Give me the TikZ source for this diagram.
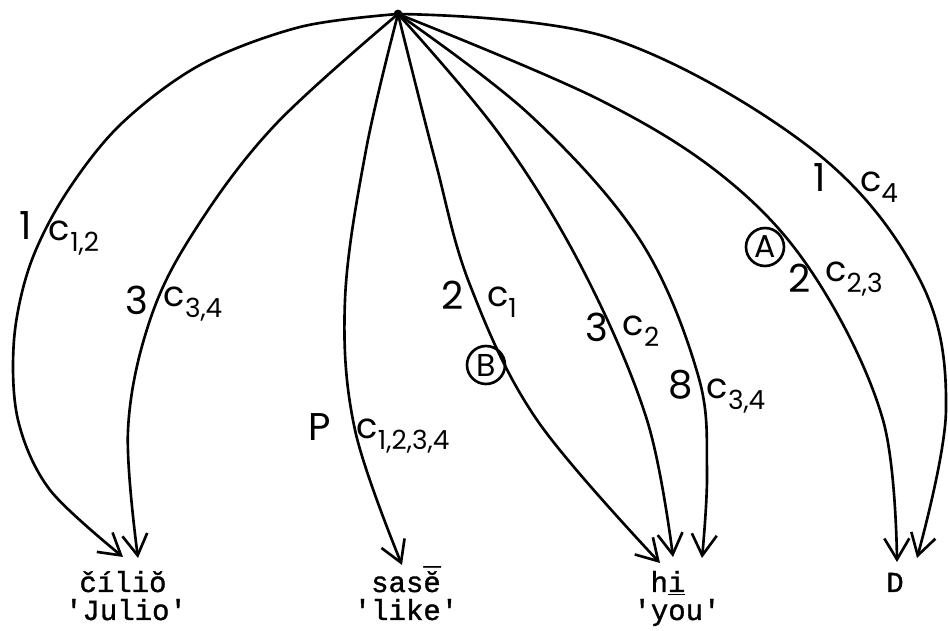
\documentclass[tikz,border=0pt]{standalone}
\usepackage{fontspec}
\setmonofont{Liberation Mono}[FakeBold=1.2]
\newfontfamily\hand{Poppins}
\newcommand\csub[1]{c\raisebox{-6.5pt}{\fontsize{15}{17}\selectfont#1}}
\usetikzlibrary{arrows.meta}

\begin{document}
\begin{tikzpicture}[x=0.02cm, y=-0.02cm,
    edge/.style={line width=1.5pt, smooth, tension=0.6,
        -{Straight Barb[length=0.42cm, width=0.5cm, line width=1.5pt]}},
    word/.style={font=\ttfamily\fontsize{16.5}{18}\selectfont, anchor=base, inner sep=0pt},
    num/.style={font=\hand\fontsize{22}{24}\selectfont, inner sep=0pt},
    lab/.style={font=\hand\fontsize{20}{22}\selectfont, inner sep=0pt},
    ring/.style={circle, draw, line width=1.5pt, inner sep=0pt, minimum size=0.76cm,
        font=\hand\fontsize{18}{20}\selectfont}]
\useasboundingbox (0,0) rectangle (948,631);

% words
\node[word] (cilio) at (123,592) {číliŏ};
\node[word] (julio) at (126,620) {'Julio'};
\node[word] (sase) at (406,592) {sas\ooalign{ĕ\cr\hidewidth\raisebox{0.1em}{\char"AF}\hidewidth\cr}};
\node[word] (like) at (406,620) {'like'};
\node[word] (hi) at (668,592) {h\underline{i}};
\node[word] (you) at (677,620) {'you'};
\node[word] (dd) at (895,592) {D};

% root and arrow ends
\coordinate (R) at (398,14);
\coordinate (t1) at (123,557);
\coordinate (t2) at (138,558);
\coordinate (t3) at (402,565);
\coordinate (t4) at (660,563);
\coordinate (t5) at (673,557);
\coordinate (t6) at (702,558);
\coordinate (t7) at (897,562);
\coordinate (t8) at (917,558);

% arcs
\draw[edge, tension=0.55] plot coordinates {(R) (300,27) (200,65) (120,125) (65,195) (30,265) (14,340) (18,420) (50,490) (t1)};
\draw[edge] plot coordinates {(R) (275,125) (195,230) (150,320) (128,430) (t2)};
\draw[edge] plot coordinates {(R) (366,150) (345,300) (355,430) (t3)};
\draw[edge] plot coordinates {(R) (435,160) (470,285) (537,420) (t4)};
\draw[edge] plot coordinates {(R) (500,135) (583,270) (647,420) (t5)};
\draw[edge] plot coordinates {(R) (530,115) (640,240) (698,375) (707,470) (t6)};
\draw[edge] plot coordinates {(R) (600,100) (730,182) (817,280) (883,420) (t7)};
\draw[edge] plot coordinates {(R) (610,38) (813,150) (920,280) (946,410) (t8)};
\fill (R) circle (2.5pt);

% arc labels
\node[num] (n1) at (26,226) {1};
\node[lab] (l1) at (74,238) {\csub{1,2}};
\node[num] (n2) at (137,300) {3};
\node[lab] (l2) at (193,304) {\csub{3,4}};
\node[num] (n3) at (320,427) {P};
\node[lab] (l3) at (403,436) {\csub{1,2,3,4}};
\node[num] (n4) at (453,295) {2};
\node[lab] (l4) at (502,302) {\csub{1}};
\node[num] (n5) at (597,327) {3};
\node[lab] (l5) at (641,331) {\csub{2}};
\node[num] (n6) at (681,385) {8};
\node[lab] (l6) at (736,396) {\csub{3,4}};
\node[num] (n7) at (800,278) {2};
\node[lab] (l7) at (854,279) {\csub{2,3}};
\node[num] (n8) at (820,178) {1};
\node[lab] (l8) at (879,187) {\csub{4}};
\node[ring] (ringB) at (486,365) {B};
\node[ring] (ringA) at (765,247) {A};
\end{tikzpicture}
\end{document}
